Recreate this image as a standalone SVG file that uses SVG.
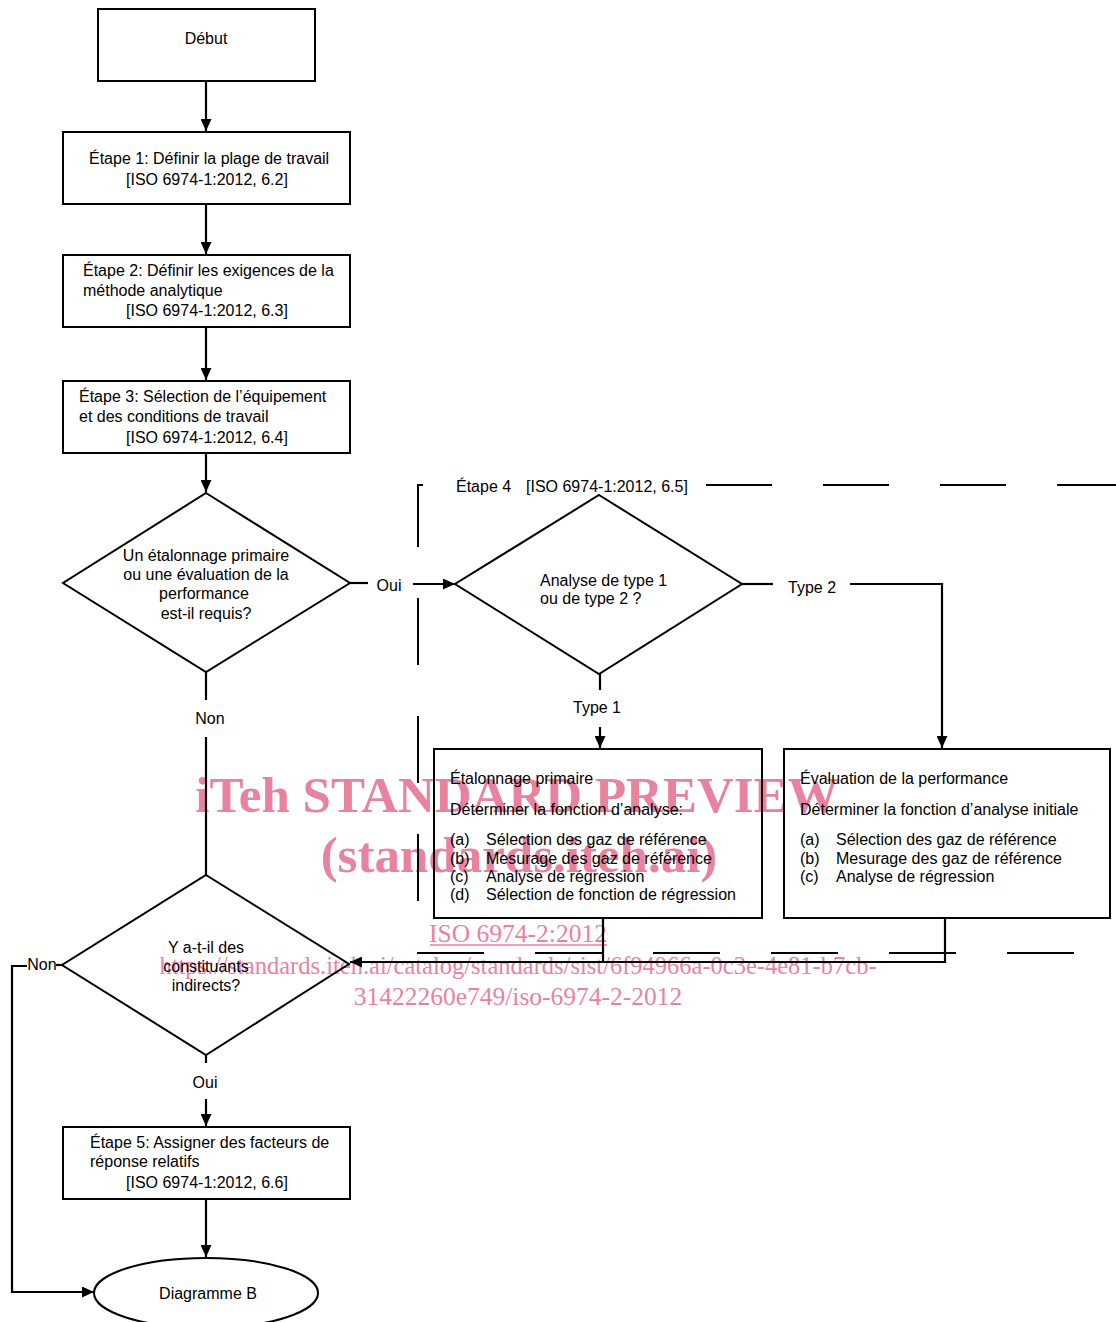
<svg xmlns="http://www.w3.org/2000/svg" width="1116" height="1322" viewBox="0 0 1116 1322">
<style>
.t{font-family:"Liberation Sans",Arial,sans-serif;font-size:16px;fill:#000}
.c{text-anchor:middle}
.s{fill:none;stroke:#000;stroke-width:2}
.ln{fill:none;stroke:#000;stroke-width:2.2}
.wm{font-family:"Liberation Serif","Times New Roman",serif;fill:#e9829f;text-anchor:middle}
.wb{font-size:51px;font-weight:bold}
.wr{font-size:25.5px}
</style>
<defs>
<marker id="ah" markerUnits="userSpaceOnUse" markerWidth="12" markerHeight="11" refX="12" refY="5.5" orient="auto">
<path d="M0,0 L12,5.5 L0,11 z" fill="#000"/>
</marker>
</defs>
<rect width="1116" height="1322" fill="#fff"/>

<g id="watermark">
<text class="wm wb" x="517" y="812">iTeh STANDARD PREVIEW</text>
<text class="wm wb" x="519" y="872">(standards.iteh.ai)</text>
<text class="wm wr" x="518" y="942">ISO 6974-2:2012</text>
<line x1="430" y1="945" x2="607" y2="945" stroke="#e9829f" stroke-width="1.5"/>
<text class="wm wr" x="518" y="974" style="font-size:24.5px">https://standards.iteh.ai/catalog/standards/sist/6f94966a-0c3e-4e81-b7cb-</text>
<text class="wm wr" x="518" y="1005">31422260e749/iso-6974-2-2012</text>
</g>

<g id="step4-frame">
<path class="s" d="M706,485 H1116" stroke-dasharray="66 51"/>
<path class="s" d="M423,485 H418 V953 H1116" stroke-dasharray="67 51"/>
<text class="t" x="456" y="492">Étape 4</text>
<text class="t" x="526" y="492">[ISO 6974-1:2012, 6.5]</text>
</g>

<g id="connectors">
<line class="ln" x1="206" y1="81" x2="206" y2="131" marker-end="url(#ah)"/>
<line class="ln" x1="206" y1="204" x2="206" y2="254" marker-end="url(#ah)"/>
<line class="ln" x1="206" y1="327" x2="206" y2="380" marker-end="url(#ah)"/>
<line class="ln" x1="206" y1="453" x2="206" y2="492" marker-end="url(#ah)"/>
<line class="ln" x1="350" y1="583" x2="368" y2="583"/>
<line class="ln" x1="413" y1="584" x2="455" y2="584" marker-end="url(#ah)"/>
<line class="ln" x1="206" y1="672" x2="206" y2="700"/>
<line class="ln" x1="206" y1="737" x2="206" y2="875"/>
<line class="ln" x1="742" y1="584" x2="773" y2="584"/>
<path class="ln" d="M850,584 H942 V748" marker-end="url(#ah)"/>
<line class="ln" x1="600" y1="674" x2="600" y2="690"/>
<line class="ln" x1="600" y1="727" x2="600" y2="748" marker-end="url(#ah)"/>
<line class="ln" x1="603" y1="918" x2="603" y2="962"/>
<path class="ln" d="M945,918 V962 H350" marker-end="url(#ah)"/>
<line class="ln" x1="62" y1="965" x2="56" y2="965"/>
<path class="ln" d="M27,966 H12 V1292 H94" marker-end="url(#ah)"/>
<line class="ln" x1="206" y1="1055" x2="206" y2="1063"/>
<line class="ln" x1="206" y1="1099" x2="206" y2="1126" marker-end="url(#ah)"/>
<line class="ln" x1="206" y1="1199" x2="206" y2="1257" marker-end="url(#ah)"/>
<text class="t c" x="389" y="591">Oui</text>
<text class="t c" x="210" y="724">Non</text>
<text class="t" x="788" y="593">Type 2</text>
<text class="t c" x="597" y="713">Type 1</text>
<text class="t c" x="42" y="970">Non</text>
<text class="t c" x="205" y="1088">Oui</text>
</g>

<g id="start">
<rect class="s" x="98" y="9" width="217" height="72"/>
<text class="t c" x="206" y="44">Début</text>
</g>

<g id="step1">
<rect class="s" x="63" y="132" width="287" height="72"/>
<text class="t" x="89" y="164">Étape 1: Définir la plage de travail</text>
<text class="t" x="126" y="185">[ISO 6974-1:2012, 6.2]</text>
</g>

<g id="step2">
<rect class="s" x="63" y="255" width="287" height="72"/>
<text class="t" x="83" y="276">Étape 2: Définir les exigences de la</text>
<text class="t" x="83" y="296">méthode analytique</text>
<text class="t" x="126" y="316">[ISO 6974-1:2012, 6.3]</text>
</g>

<g id="step3">
<rect class="s" x="63" y="381" width="287" height="72"/>
<text class="t" x="79" y="402">Étape 3: Sélection de l’équipement</text>
<text class="t" x="79" y="422">et des conditions de travail</text>
<text class="t" x="126" y="443">[ISO 6974-1:2012, 6.4]</text>
</g>

<g id="decision1">
<polygon class="s" points="206,493 350,583 206,672 63,583"/>
<text class="t c" x="206" y="561">Un étalonnage primaire</text>
<text class="t c" x="206" y="580">ou une évaluation de la</text>
<text class="t c" x="204" y="599">performance</text>
<text class="t c" x="206" y="619">est-il requis?</text>
</g>

<g id="decision-type">
<polygon class="s" points="599,495 742,584 599,674 455,584"/>
<text class="t" x="540" y="586">Analyse de type 1</text>
<text class="t" x="540" y="604">ou de type 2 ?</text>
</g>

<g id="primary-calibration">
<rect class="s" x="434" y="749" width="328" height="169"/>
<text class="t" x="450" y="784">Étalonnage primaire</text>
<text class="t" x="450" y="815">Déterminer la fonction d’analyse:</text>
<text class="t" x="450" y="845">(a)</text><text class="t" x="486" y="845">Sélection des gaz de référence</text>
<text class="t" x="450" y="864">(b)</text><text class="t" x="486" y="864">Mesurage des gaz de référence</text>
<text class="t" x="450" y="882">(c)</text><text class="t" x="486" y="882">Analyse de régression</text>
<text class="t" x="450" y="900">(d)</text><text class="t" x="486" y="900">Sélection de fonction de régression</text>
</g>

<g id="performance-evaluation">
<rect class="s" x="784" y="749" width="326" height="169"/>
<text class="t" x="800" y="784">Évaluation de la performance</text>
<text class="t" x="800" y="815">Déterminer la fonction d’analyse initiale</text>
<text class="t" x="800" y="845">(a)</text><text class="t" x="836" y="845">Sélection des gaz de référence</text>
<text class="t" x="800" y="864">(b)</text><text class="t" x="836" y="864">Mesurage des gaz de référence</text>
<text class="t" x="800" y="882">(c)</text><text class="t" x="836" y="882">Analyse de régression</text>
</g>

<g id="decision2">
<polygon class="s" points="206,875 349,964 206,1055 62,965"/>
<text class="t c" x="206" y="953">Y a-t-il des</text>
<text class="t c" x="206" y="972">constituants</text>
<text class="t c" x="206" y="991">indirects?</text>
</g>

<g id="step5">
<rect class="s" x="63" y="1127" width="287" height="72"/>
<text class="t" x="90" y="1148">Étape 5: Assigner des facteurs de</text>
<text class="t" x="90" y="1167">réponse relatifs</text>
<text class="t" x="126" y="1188">[ISO 6974-1:2012, 6.6]</text>
</g>

<g id="end">
<ellipse class="s" cx="206" cy="1293" rx="112" ry="35"/>
<text class="t c" x="208" y="1299">Diagramme B</text>
</g>
</svg>
